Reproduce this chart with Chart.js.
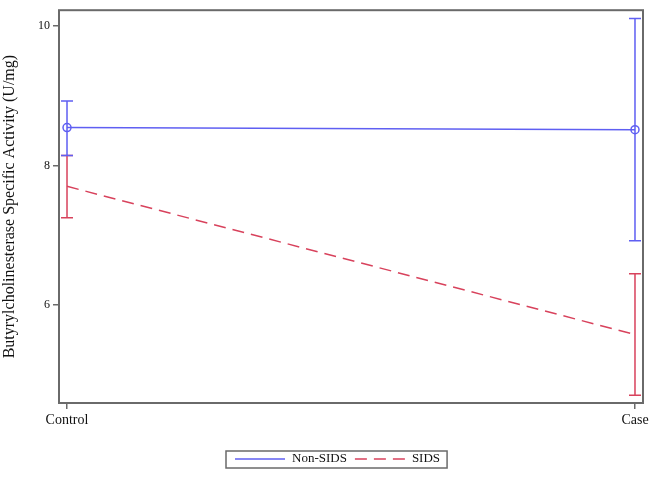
<!DOCTYPE html>
<html>
<head>
<meta charset="utf-8">
<script src="https://cdn.jsdelivr.net/npm/chart.js@4/dist/chart.umd.min.js"></script>
<style>
html,body{margin:0;padding:0;background:#fff;}
#wrap{width:659px;height:490px;}
</style>
</head>
<body>
<div id="wrap"><canvas id="c" width="659" height="490"></canvas></div>
<script>
const categories = ['Control', 'Case'];
const nonSidsMean = [8.54, 8.51];
const nonSidsLow = [8.14, 6.92];
const nonSidsHigh = [8.92, 10.10];
const sidsMean = [7.70, 5.58];
const sidsLow = [7.25, 4.71];
const sidsHigh = [8.14, 6.45];
const yTicks = [6, 8, 10];
const seriesLabels = ['Non-SIDS', 'SIDS'];

const BLUE = '#5f5ff2';
const RED = '#d8425c';
const AXIS = '#6a6a6a';
const FONT = 'Liberation Serif';

const toPts = arr => arr.map((v, i) => ({x: i, y: v}));

const errorBars = {
  id: 'errorBars',
  afterDatasetsDraw(chart) {
    const ctx = chart.ctx;
    const xs = chart.scales.x, ys = chart.scales.y;
    for (let d = chart.data.datasets.length - 1; d >= 0; d--) {
      const ds = chart.data.datasets[d];
      ctx.save();
      ctx.strokeStyle = ds.borderColor;
      ctx.lineWidth = 1.5;
      ctx.setLineDash([]);
      ds.errLow.forEach((lo, i) => {
        const x = xs.getPixelForValue(i);
        const yl = ys.getPixelForValue(lo);
        const yh = ys.getPixelForValue(ds.errHigh[i]);
        ctx.beginPath();
        ctx.moveTo(x, yl); ctx.lineTo(x, yh);
        ctx.moveTo(x - 6, yl); ctx.lineTo(x + 6, yl);
        ctx.moveTo(x - 6, yh); ctx.lineTo(x + 6, yh);
        ctx.stroke();
      });
      ctx.restore();
    }
  }
};

const frame = {
  id: 'frame',
  afterDraw(chart) {
    const {ctx, chartArea: a} = chart;
    ctx.save();
    ctx.strokeStyle = AXIS;
    ctx.lineWidth = 2;
    ctx.strokeRect(a.left, a.top, a.right - a.left, a.bottom - a.top);
    ctx.restore();
  }
};

const boxLegend = {
  id: 'boxLegend',
  afterDraw(chart) {
    const ctx = chart.ctx;
    ctx.save();
    ctx.font = '13px "' + FONT + '"';
    ctx.textBaseline = 'middle';
    const y = 459;
    let x = 235;
    const startX = x;
    chart.data.datasets.forEach((ds, i) => {
      ctx.strokeStyle = ds.borderColor;
      ctx.lineWidth = 1.5;
      ctx.setLineDash(ds.borderDash || []);
      ctx.beginPath();
      ctx.moveTo(x, y); ctx.lineTo(x + 50, y);
      ctx.stroke();
      ctx.setLineDash([]);
      x += 57;
      ctx.fillStyle = '#111';
      ctx.fillText(ds.label, x, y);
      x += ctx.measureText(ds.label).width;
      if (i < chart.data.datasets.length - 1) x += 8;
    });
    ctx.strokeStyle = AXIS;
    ctx.lineWidth = 1.5;
    ctx.strokeRect(startX - 9, 451, x - startX + 16, 17);
    ctx.restore();
  }
};

new Chart(document.getElementById('c'), {
  type: 'line',
  data: {
    datasets: [
      {
        label: seriesLabels[0],
        data: toPts(nonSidsMean),
        errLow: nonSidsLow, errHigh: nonSidsHigh,
        borderColor: BLUE, backgroundColor: 'rgba(0,0,0,0)',
        borderWidth: 1.5,
        pointRadius: 4, pointBorderWidth: 1.5,
        pointBackgroundColor: 'rgba(0,0,0,0)', pointBorderColor: BLUE,
        order: 0
      },
      {
        label: seriesLabels[1],
        data: toPts(sidsMean),
        errLow: sidsLow, errHigh: sidsHigh,
        borderColor: RED, backgroundColor: 'rgba(0,0,0,0)',
        borderWidth: 1.5, borderDash: [12, 7],
        pointRadius: 0,
        order: 1
      }
    ]
  },
  options: {
    responsive: false,
    animation: false,
    devicePixelRatio: 1,
    layout: {padding: {left: 0, top: 9, right: 16, bottom: 57}},
    plugins: {legend: {display: false}, tooltip: {enabled: false}},
    scales: {
      x: {
        type: 'linear',
        min: -0.0141, max: 1.0141,
        afterBuildTicks: s => { s.ticks = categories.map((c, i) => ({value: i})); },
        afterFit: s => { s.height = 30; },
        ticks: {
          callback: v => categories[v],
          font: {family: FONT, size: 14}, color: '#111', padding: 3, maxRotation: 0, autoSkip: false
        },
        grid: {display: true, drawOnChartArea: false, drawTicks: true, tickLength: 6, color: AXIS, lineWidth: 1.5},
        border: {display: false}
      },
      y: {
        min: 4.6, max: 10.22,
        afterBuildTicks: s => { s.ticks = yTicks.map(v => ({value: v})); },
        afterFit: s => { s.width = 59; },
        ticks: {font: {family: FONT, size: 12}, color: '#111', padding: 3},
        grid: {display: true, drawOnChartArea: false, drawTicks: true, tickLength: 6, color: AXIS, lineWidth: 1.5},
        border: {display: false},
        title: {
          display: true,
          text: 'Butyrylcholinesterase Specific Activity (U/mg)',
          font: {family: FONT, size: 16}, color: '#111',
          padding: {top: 0, bottom: 0}
        }
      }
    }
  },
  plugins: [errorBars, frame, boxLegend]
});
</script>
</body>
</html>
